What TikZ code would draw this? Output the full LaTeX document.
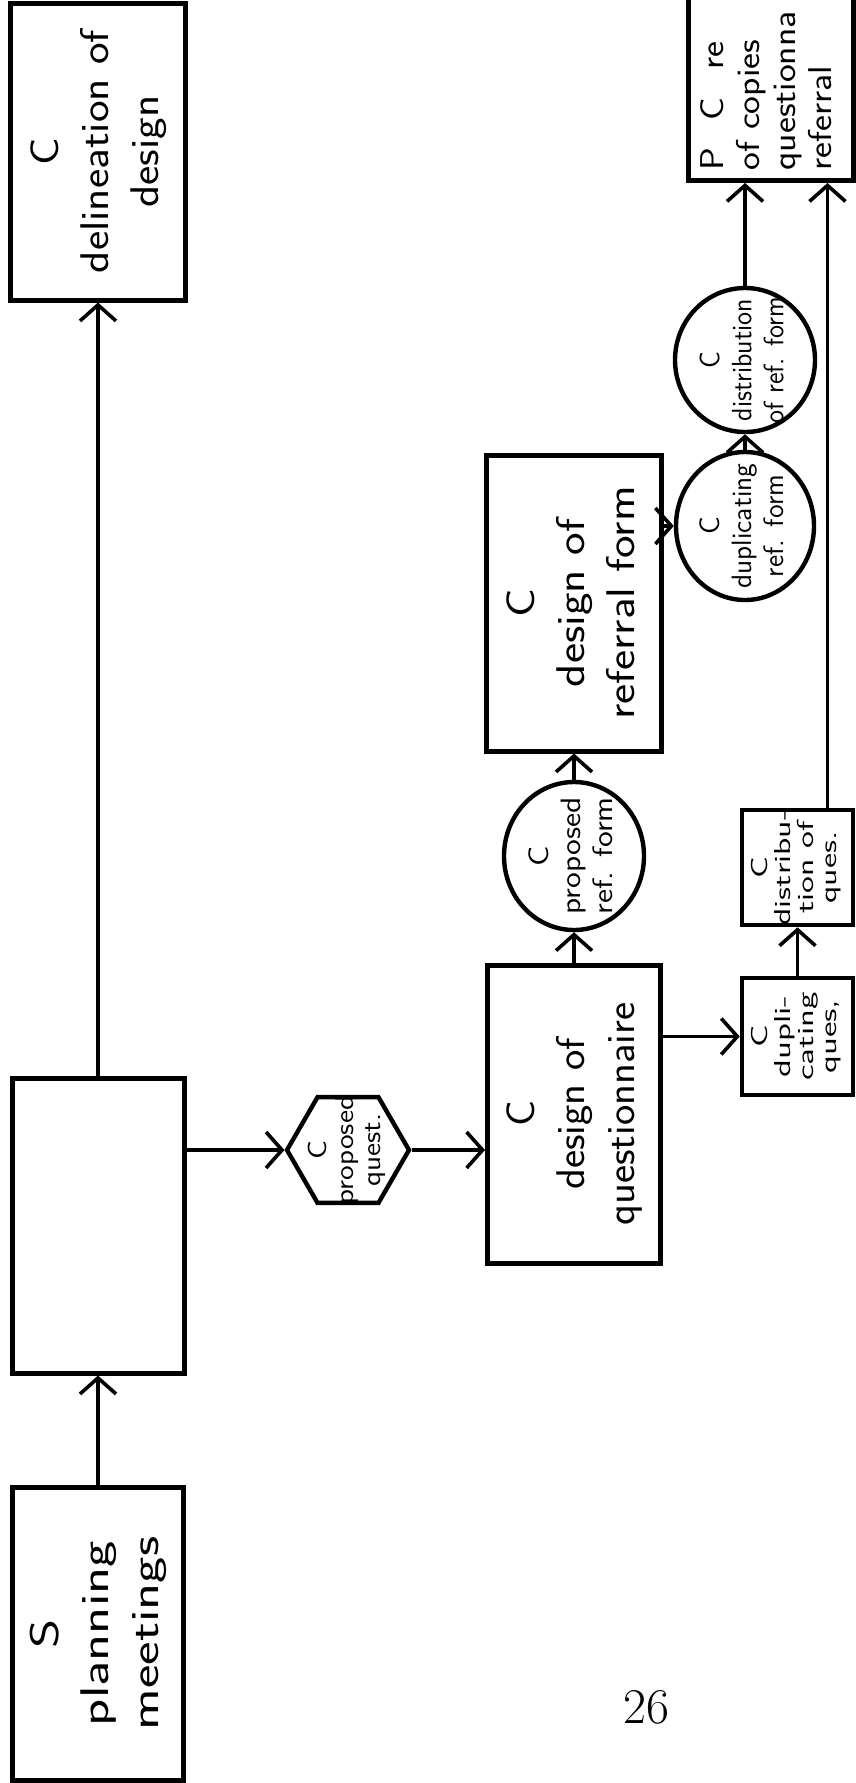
\documentclass[tikz,border=0pt]{standalone}
\usepackage{graphicx}
\usetikzlibrary{arrows.meta,shapes.geometric}
\tikzset{
  blk/.style={draw, line width=2.5pt, inner sep=0pt, font=\fontsize{20}{25}\selectfont\sffamily},
  sblk/.style={draw, line width=2.3pt, inner sep=0pt, font=\fontsize{11.5}{11.5}\selectfont\sffamily},
  circ/.style={draw, ellipse, line width=2.2pt, inner sep=0pt, font=\fontsize{14}{16}\selectfont\sffamily},
  hexa/.style={draw, regular polygon, regular polygon sides=6, line width=2.2pt, inner sep=0pt, minimum size=61pt, font=\fontsize{13}{13.5}\selectfont\sffamily},
  arr/.style={-{Straight Barb[length=8pt,width=18pt,line width=1.8pt]}, line width=1.6pt},
}
% text turned to read bottom to top, centred on the node; [stretch]
\newcommand{\vtext}[2][1]{\makebox[0pt]{\raisebox{-.5\height}[0pt][0pt]{\rotatebox{90}{\scalebox{#1}[1]{\begin{tabular}{@{}c@{}}#2\end{tabular}}}}}}
\begin{document}
\begin{tikzpicture}[x=0.5pt, y=-0.5pt]
\useasboundingbox[fill=white] (0,0) rectangle (856,1783);
\node[blk, minimum width=87.5pt, minimum height=148.5pt] (deline) at (98,151.5) {\vtext[1.15]{C\\delineation of\\design}};
\node[blk, minimum width=86pt, minimum height=147.5pt] (mid) at (98,1225.5) {};
\node[blk, minimum width=85.5pt, minimum height=146.5pt] (plan) at (98,1633.5) {\vtext[1.4]{S\\planning\\meetings}};
\node[hexa] (hex) at (348,1150) {\vtext[1.15]{C\\proposed\\quest.}};
\node[blk, minimum width=86.5pt, minimum height=149pt] (quesbox) at (574,1114) {\vtext[1.08]{C\\design of\\questionnaire}};
\node[circ, minimum width=70pt, minimum height=74pt] (propref) at (574,856) {\vtext[1.15]{C\\proposed\\ref. form}};
\node[blk, minimum width=87.5pt, minimum height=148pt] (refbox) at (574,603) {\vtext[1.2]{C\\design of\\referral form}};
\node[circ, minimum width=69pt, minimum height=74pt] (dupref) at (745,526) {\vtext{C\\duplicating\\ref. form}};
\node[circ, minimum width=70pt, minimum height=72pt] (distref) at (745,360) {\vtext[0.95]{C\\distribution\\of ref. form}};
\node[blk, font=\fontsize{16.5}{18}\selectfont\sffamily, anchor=south, inner xsep=5.25pt, inner ysep=5pt] (copies) at (770.5,183)
  {\rotatebox{90}{\scalebox{1.15}[1]{\begin{tabular}{@{}l@{}}P\hspace{12pt}C\hspace{12pt}re\\of copies\\questionna\\referral\end{tabular}}\hspace{150pt}}};
\node[sblk, minimum width=55.5pt, minimum height=58.5pt] (dupques) at (797.5,1036.5) {\vtext[1.55]{C\\dupli-\\cating\\ques,}};
\node[sblk, minimum width=55.5pt, minimum height=57.5pt] (distques) at (797.5,867.5) {\vtext[1.5]{C\\distribu-\\tion of\\ques.}};
\node[font=\fontsize{25}{25}\selectfont] (pnum) at (646,1707) {26};
\foreach \a/\b in {plan/mid,mid/deline,quesbox/propref,propref/refbox,dupref/distref,dupques/distques} \draw[arr] (\a) -- (\b);
\draw[arr] (hex.west -| mid.east) -- (hex.west);
\draw[arr] (hex.east) -- (hex.east -| quesbox.west);
\draw[arr] (dupques.west -| quesbox.east) -- (dupques.west);
\draw[arr] (dupref.west -| refbox.east) -- (dupref.west);
\draw[arr] (distref.north) -- (distref.north |- copies.south);
\draw[arr] ([xshift=15pt]distques.north) -- ([xshift=15pt]distques.north |- copies.south);
\end{tikzpicture}
\end{document}
